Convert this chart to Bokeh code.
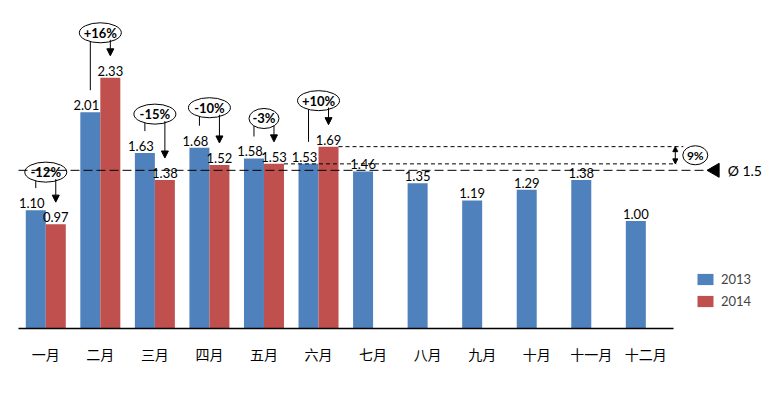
from math import pi
from bokeh.plotting import figure
from bokeh.models import Range1d, FixedTicker, Arrow, NormalHead, ColumnDataSource
from bokeh.core.properties import value
from bokeh.embed import file_html
from bokeh.resources import INLINE

# ---------------- data ----------------
months = ["一月", "二月", "三月", "四月", "五月", "六月",
          "七月", "八月", "九月", "十月", "十一月", "十二月"]
v2013 = [1.10, 2.01, 1.63, 1.68, 1.58, 1.53, 1.46, 1.35, 1.19, 1.29, 1.38, 1.00]
v2014 = [0.97, 2.33, 1.38, 1.52, 1.53, 1.69]
pct_change = ["-12%", "+16%", "-15%", "-10%", "-3%", "+10%"]
series_names = ["2013", "2014"]
avg_value = 1.47
avg_text = "Ø 1.5"
gap_text = "9%"

# ---------------- layout constants ----------------
BLUE = "#4F81BD"
RED = "#C0504D"
PXX = 54.55          # px per category
PXY = 107.6          # px per unit value
OFF = 10 / PXX       # half bar width in data units
BW = 20 / PXX
FONT = value("Lato")
LEFT, TOP = 8, 8
W, H = 765, 386
FRAME_H = 320
FRAME_W = W - LEFT

x0 = -0.5 - 10 / PXX
p = figure(width=W, height=H, output_backend="svg", toolbar_location=None,
           x_range=Range1d(x0, x0 + FRAME_W / PXX), y_range=Range1d(0, FRAME_H / PXY),
           y_axis_location=None,
           min_border_left=LEFT, min_border_right=0, min_border_top=TOP,
           min_border_bottom=H - FRAME_H - TOP)
p.outline_line_color = None
p.xgrid.visible = False
p.ygrid.visible = False

n13 = len(v2013)
n14 = len(v2014)
x13 = [i - OFF for i in range(n13)]
x14 = [i + OFF for i in range(n14)]

p.vbar(x=x13, top=v2013, width=BW, fill_color=BLUE, line_color=None,
       legend_label=series_names[0])
p.vbar(x=x14, top=v2014, width=BW, fill_color=RED, line_color=None,
       legend_label=series_names[1])

# x axis
ax = p.xaxis[0]
ax.ticker = FixedTicker(ticks=list(range(n13)))
ax.major_label_overrides = {i: m for i, m in enumerate(months)}
ax.bounds = (-0.5, n13 - 0.5)
ax.axis_line_color = "black"
ax.axis_line_width = 1.5
ax.major_tick_line_color = None
ax.minor_tick_line_color = None
ax.major_label_standoff = 9
ax.major_label_text_font = "Noto Sans CJK SC"
ax.major_label_text_font_size = "14px"
ax.major_label_text_color = "black"

# value labels
s13 = ColumnDataSource(dict(x=x13, y=v2013, t=[f"{v:.2f}" for v in v2013],
                            xo=[-4 if i < n14 else 0 for i in range(n13)]))
p.text(x="x", y="y", text="t", x_offset="xo", y_offset=-7, source=s13,
       text_align="center", text_baseline="alphabetic", text_font=FONT,
       text_font_size="13px", text_color="black")
s14 = ColumnDataSource(dict(x=x14, y=v2014, t=[f"{v:.2f}" for v in v2014]))
p.text(x="x", y="y", text="t", y_offset=-7, source=s14,
       text_align="center", text_baseline="alphabetic", text_font=FONT,
       text_font_size="13px", text_color="black")

# change bubbles
bubble_px = [38, 45, 39, 40, 40, 46]
gap = 22 / PXY
bx = list(range(n14))
by = [max(a, b) + o / PXY for a, b, o in zip(v2013, v2014, bubble_px)]
p.segment(x0=[i - OFF for i in bx], y0=by, x1=[i - OFF for i in bx],
          y1=[v + gap for v in v2013[:n14]], line_color="black", line_width=1)
for i in bx:
    p.add_layout(Arrow(end=NormalHead(size=7, fill_color="black", line_color="black"),
                       x_start=i + OFF, y_start=by[i] - 7 / PXY,
                       x_end=i + OFF, y_end=v2014[i] + gap,
                       line_color="black", line_width=1))
p.ellipse(x=bx, y=by, width=[42 if len(t) > 3 else 30 for t in pct_change],
          height=20, width_units="screen", height_units="screen",
          fill_color="white", line_color="black", line_width=1)
p.text(x=bx, y=by, text=pct_change, text_align="center", text_baseline="middle",
       text_font=FONT, text_font_size="13px", text_font_style="bold",
       text_color="black")

# average line
avg_end = 12.09
p.segment(x0=[-0.5], y0=[avg_value], x1=[avg_end], y1=[avg_value],
          line_color="black", line_width=1, line_dash="9 4")
p.scatter(x=[12.27], y=[avg_value], marker="triangle", size=14, angle=pi / 2,
          fill_color="black", line_color="black")
p.text(x=[12.5], y=[avg_value], text=[avg_text], text_align="left",
       text_baseline="middle", text_font=FONT, text_font_size="14px",
       text_color="black")

# gap bracket (June 2013 vs June 2014)
top = v2014[5]
bot = v2013[5]
bracket_x = 11.54
p.segment(x0=[5 + 2 * OFF, 4 + 2 * OFF], y0=[top, bot],
          x1=[bracket_x + 8 / PXX, bracket_x + 1 / PXX], y1=[top, bot],
          line_color="black", line_width=1, line_dash="4 3")
p.add_layout(Arrow(start=NormalHead(size=5, fill_color="black", line_color="black"),
                   end=NormalHead(size=5, fill_color="black", line_color="black"),
                   x_start=bracket_x, y_start=bot, x_end=bracket_x, y_end=top,
                   line_color="black", line_width=1))
p.ellipse(x=[bracket_x + 20 / PXX], y=[(top + bot) / 2], width=25, height=19,
          width_units="screen", height_units="screen",
          fill_color="white", line_color="black", line_width=1)
p.text(x=[bracket_x + 20 / PXX], y=[(top + bot) / 2], text=[gap_text],
       text_align="center", text_baseline="middle", text_font=FONT,
       text_font_size="12px", text_font_style="bold", text_color="black")

# legend
lg = p.legend[0]
lg.location = (687, 19)
lg.padding = 0
lg.margin = 0
lg.spacing = 6
lg.glyph_width = 20
lg.glyph_height = 14
lg.label_height = 14
lg.label_standoff = 6
lg.label_text_font = "Lato"
lg.label_text_font_size = "13px"
lg.border_line_color = None
lg.background_fill_alpha = 0

open("out.html", "w").write(file_html(p, INLINE))
